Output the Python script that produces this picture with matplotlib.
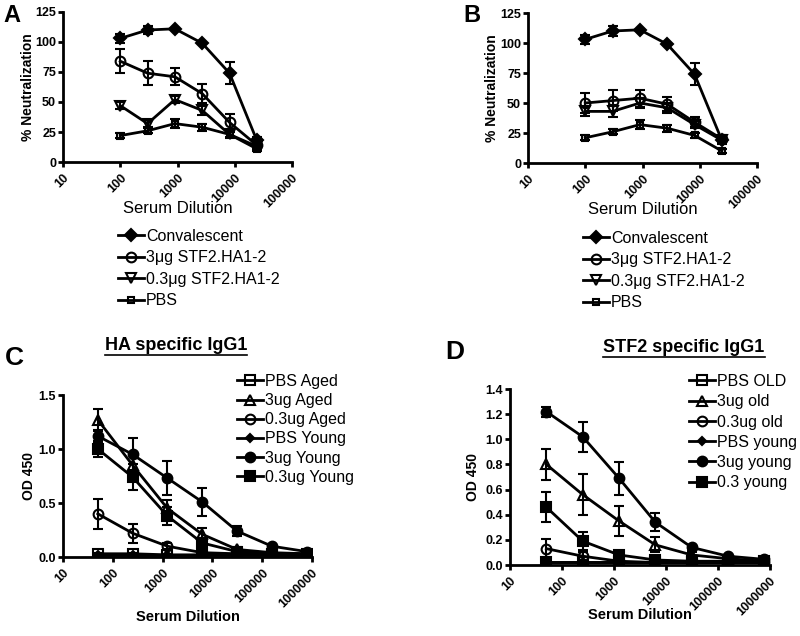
import matplotlib
matplotlib.use("Agg")
import matplotlib.pyplot as plt
from matplotlib.lines import Line2D

plt.rcParams['font.family'] = ['Liberation Sans', 'DejaVu Sans']

# serum dilutions
dil_ab = [100, 300, 900, 2700, 8100, 24300]
dil_cd = [50, 250, 1250, 6250, 31250, 156250, 781250]

# panel A - % neutralization
conv_a = [103, 110, 111, 99, 74, 18]
conv_a_err = [4, 3, 1, 1, 9, 3]
hi_a = [84, 74, 71, 57, 33, 14]
hi_a_err = [10, 10, 7, 8, 7, 3]
lo_a = [47, 32, 52, 43, 23, 13]
lo_a_err = [3, 3, 3, 4, 3, 2]
pbs_a = [22, 26, 32, 29, 23, 11]
pbs_a_err = [2, 2, 4, 3, 2, 2]

# panel B - % neutralization
conv_b = [103, 110, 111, 99, 74, 19]
conv_b_err = [4, 4, 1, 1, 9, 3]
hi_b = [50, 52, 54, 49, 34, 20]
hi_b_err = [8, 9, 7, 6, 4, 3]
lo_b = [43, 43, 50, 46, 32, 19]
lo_b_err = [4, 5, 4, 4, 3, 2]
pbs_b = [21, 26, 32, 29, 23, 10]
pbs_b_err = [2, 2, 4, 3, 2, 2]

# panel C - HA specific IgG1 (OD 450)
pbs_aged_c = [0.03, 0.03, 0.02, 0.02, 0.02, 0.02, 0.02]
pbs_aged_c_err = [0.01, 0.01, 0.01, 0.01, 0.01, 0.01, 0.01]
hi_aged_c = [1.27, 0.85, 0.45, 0.21, 0.07, 0.04, 0.03]
hi_aged_c_err = [0.10, 0.10, 0.08, 0.06, 0.02, 0.01, 0.01]
lo_aged_c = [0.40, 0.22, 0.10, 0.04, 0.03, 0.02, 0.02]
lo_aged_c_err = [0.14, 0.09, 0.03, 0.01, 0.01, 0.01, 0.01]
pbs_young_c = [0.02, 0.02, 0.02, 0.02, 0.02, 0.02, 0.02]
pbs_young_c_err = [0.01, 0.01, 0.01, 0.01, 0.01, 0.01, 0.01]
hi_young_c = [1.12, 0.95, 0.73, 0.51, 0.24, 0.10, 0.05]
hi_young_c_err = [0.06, 0.15, 0.16, 0.13, 0.05, 0.02, 0.01]
lo_young_c = [1.00, 0.74, 0.38, 0.13, 0.05, 0.03, 0.03]
lo_young_c_err = [0.07, 0.12, 0.08, 0.03, 0.01, 0.01, 0.01]

# panel D - STF2 specific IgG1 (OD 450)
pbs_old_d = [0.02, 0.02, 0.02, 0.02, 0.02, 0.02, 0.02]
pbs_old_d_err = [0.01, 0.01, 0.01, 0.01, 0.01, 0.01, 0.01]
hi_old_d = [0.80, 0.56, 0.35, 0.16, 0.08, 0.05, 0.03]
hi_old_d_err = [0.12, 0.16, 0.12, 0.06, 0.02, 0.01, 0.01]
lo_old_d = [0.13, 0.07, 0.03, 0.02, 0.02, 0.02, 0.02]
lo_old_d_err = [0.08, 0.03, 0.01, 0.01, 0.01, 0.01, 0.01]
pbs_young_d = [0.02, 0.02, 0.02, 0.02, 0.02, 0.02, 0.02]
pbs_young_d_err = [0.01, 0.01, 0.01, 0.01, 0.01, 0.01, 0.01]
hi_young_d = [1.22, 1.02, 0.69, 0.34, 0.14, 0.07, 0.045]
hi_young_d_err = [0.04, 0.12, 0.13, 0.07, 0.02, 0.01, 0.01]
lo_young_d = [0.46, 0.19, 0.08, 0.04, 0.03, 0.03, 0.03]
lo_young_d_err = [0.12, 0.07, 0.02, 0.01, 0.01, 0.01, 0.01]

W, H = 800, 636
fig = plt.figure(figsize=(W / 100, H / 100), dpi=100)


def rect(x0, x1, ytop, ybot):
    return [x0 / W, (H - ybot) / H, (x1 - x0) / W, (ybot - ytop) / H]


def style_axes(ax, xmax, yticks, ylim, ylabel, bold_xlabel, xlab_y, ylab_x):
    ax.set_xscale('log')
    ax.set_xlim(10, xmax)
    ax.set_ylim(*ylim)
    for s in ['top', 'right']:
        ax.spines[s].set_visible(False)
    for s in ['left', 'bottom']:
        ax.spines[s].set_linewidth(2)
    xt = [10 ** i for i in range(1, len(str(int(xmax))))]
    ax.set_xticks(xt)
    ax.set_xticklabels([str(v) for v in xt], rotation=45, ha='right',
                       rotation_mode='anchor', fontweight='bold', fontsize=9)
    ax.minorticks_off()
    ax.set_yticks(yticks)
    ax.tick_params(width=2, length=3.5, direction='out')
    ax.tick_params(axis='y', pad=1.5)
    for t in ax.get_yticklabels():
        t.set_fontweight('bold')
        t.set_fontsize(9)
    ax.set_xlabel('Serum Dilution', fontsize=12 if not bold_xlabel else 10.5,
                  fontweight='bold' if bold_xlabel else 'normal')
    ax.set_ylabel(ylabel, fontsize=10, fontweight='bold')
    ax.xaxis.set_label_coords(0.5, xlab_y)
    ax.xaxis.label.set_va('center')
    ax.yaxis.set_label_coords(ylab_x, 0.5)
    ax.yaxis.label.set_va('center')


def series(ax, x, y, err, marker, filled, ms, label):
    ax.errorbar(x, y, yerr=err, color='black', lw=2, marker=marker, ms=ms,
                mfc='black' if filled else 'none', mec='black', mew=1.5,
                capsize=3.5, capthick=1.5, elinewidth=1.5, label=label)


def handle(marker, filled, ms):
    return Line2D([], [], color='black', lw=2, marker=marker, ms=ms,
                  mfc='black' if filled else 'none', mec='black', mew=1.5)


# ---- A ----
axA = fig.add_axes(rect(63, 292, 12, 162))
series(axA, dil_ab, conv_a, conv_a_err, 'D', True, 6, 'Convalescent')
series(axA, dil_ab, hi_a, hi_a_err, 'o', False, 7, '3\u03bcg STF2.HA1-2')
series(axA, dil_ab, lo_a, lo_a_err, 'v', False, 7, '0.3\u03bcg STF2.HA1-2')
series(axA, dil_ab, pbs_a, pbs_a_err, 's', False, 5, 'PBS')
style_axes(axA, 100000, [0, 25, 50, 75, 100, 125], (0, 125),
           '% Neutralization', False, -0.31, -0.155)

# ---- B ----
axB = fig.add_axes(rect(528, 757, 13, 163))
series(axB, dil_ab, conv_b, conv_b_err, 'D', True, 6, 'Convalescent')
series(axB, dil_ab, hi_b, hi_b_err, 'o', False, 7, '3\u03bcg STF2.HA1-2')
series(axB, dil_ab, lo_b, lo_b_err, 'v', False, 7, '0.3\u03bcg STF2.HA1-2')
series(axB, dil_ab, pbs_b, pbs_b_err, 's', False, 5, 'PBS')
style_axes(axB, 100000, [0, 25, 50, 75, 100, 125], (0, 125),
           '% Neutralization', False, -0.31, -0.157)

labs_ab = ['Convalescent', '3\u03bcg STF2.HA1-2', '0.3\u03bcg STF2.HA1-2', 'PBS']
hand_ab = [handle('D', True, 6), handle('o', False, 7),
           handle('v', False, 7), handle('s', False, 5)]
for x0, y0 in [(118, 229), (583, 231)]:
    fig.legend(hand_ab, labs_ab, loc='upper left',
               bbox_to_anchor=(x0 / W, 1 - y0 / H), frameon=False,
               fontsize=11.5, borderpad=0, borderaxespad=0,
               handlelength=1.6, handletextpad=0.15, labelspacing=0.4)

# ---- C ----
axC = fig.add_axes(rect(63, 312, 395, 557))
series(axC, dil_cd, pbs_aged_c, pbs_aged_c_err, 's', False, 7, 'PBS Aged')
series(axC, dil_cd, hi_aged_c, hi_aged_c_err, '^', False, 7, '3ug Aged')
series(axC, dil_cd, lo_aged_c, lo_aged_c_err, 'o', False, 7, '0.3ug Aged')
series(axC, dil_cd, pbs_young_c, pbs_young_c_err, 'D', True, 4, 'PBS Young')
series(axC, dil_cd, hi_young_c, hi_young_c_err, 'o', True, 7, '3ug Young')
series(axC, dil_cd, lo_young_c, lo_young_c_err, 's', True, 7, '0.3ug Young')
style_axes(axC, 1000000, [0.0, 0.5, 1.0, 1.5], (0, 1.5),
           'OD 450', True, -0.37, -0.137)
axC.set_yticklabels(['0.0', '0.5', '1.0', '1.5'], fontweight='bold', fontsize=9)

hand_c = [handle('s', False, 7), handle('^', False, 7), handle('o', False, 7),
          handle('D', True, 4), handle('o', True, 7), handle('s', True, 7)]
fig.legend(hand_c, ['PBS Aged', '3ug Aged', '0.3ug Aged', 'PBS Young',
                    '3ug Young', '0.3ug Young'],
           loc='upper left', bbox_to_anchor=(237 / W, 1 - 374 / H),
           frameon=False, fontsize=11.5, borderpad=0, borderaxespad=0,
           handlelength=1.6, handletextpad=0.15, labelspacing=0.26)

# ---- D ----
axD = fig.add_axes(rect(510, 770, 389, 565))
series(axD, dil_cd, pbs_old_d, pbs_old_d_err, 's', False, 7, 'PBS OLD')
series(axD, dil_cd, hi_old_d, hi_old_d_err, '^', False, 7, '3ug old')
series(axD, dil_cd, lo_old_d, lo_old_d_err, 'o', False, 7, '0.3ug old')
series(axD, dil_cd, pbs_young_d, pbs_young_d_err, 'D', True, 4, 'PBS young')
series(axD, dil_cd, hi_young_d, hi_young_d_err, 'o', True, 7, '3ug young')
series(axD, dil_cd, lo_young_d, lo_young_d_err, 's', True, 7, '0.3 young')
style_axes(axD, 1000000, [0.0, 0.2, 0.4, 0.6, 0.8, 1.0, 1.2, 1.4], (0, 1.4),
           'OD 450', True, -0.285, -0.142)
axD.set_yticklabels(['0.0', '0.2', '0.4', '0.6', '0.8', '1.0', '1.2', '1.4'],
                    fontweight='bold', fontsize=9)

fig.legend(hand_c, ['PBS OLD', '3ug old', '0.3ug old', 'PBS young',
                    '3ug young', '0.3 young'],
           loc='upper left', bbox_to_anchor=(689 / W, 1 - 374 / H),
           frameon=False, fontsize=11.5, borderpad=0, borderaxespad=0,
           handlelength=1.6, handletextpad=0.15, labelspacing=0.33)

# panel letters
for lab, x, y, fs in [('A', 12, 15, 17), ('B', 472, 16, 17),
                      ('C', 14, 358, 19), ('D', 455, 352, 19)]:
    fig.text(x / W, 1 - y / H, lab, fontsize=fs, fontweight='bold',
             ha='center', va='center')

# underlined titles
renderer = fig.canvas.get_renderer()
for txt, x, y in [('HA specific IgG1', 176, 345), ('STF2 specific IgG1', 684, 347)]:
    t = fig.text(x / W, 1 - y / H, txt, fontsize=13, fontweight='bold',
                 ha='center', va='center')
    bb = t.get_window_extent(renderer).transformed(fig.transFigure.inverted())
    fig.add_artist(Line2D([bb.x0, bb.x1], [bb.y0 - 0.003, bb.y0 - 0.003],
                          color='black', lw=1.2, transform=fig.transFigure))

fig.savefig('out.png', dpi=100)
